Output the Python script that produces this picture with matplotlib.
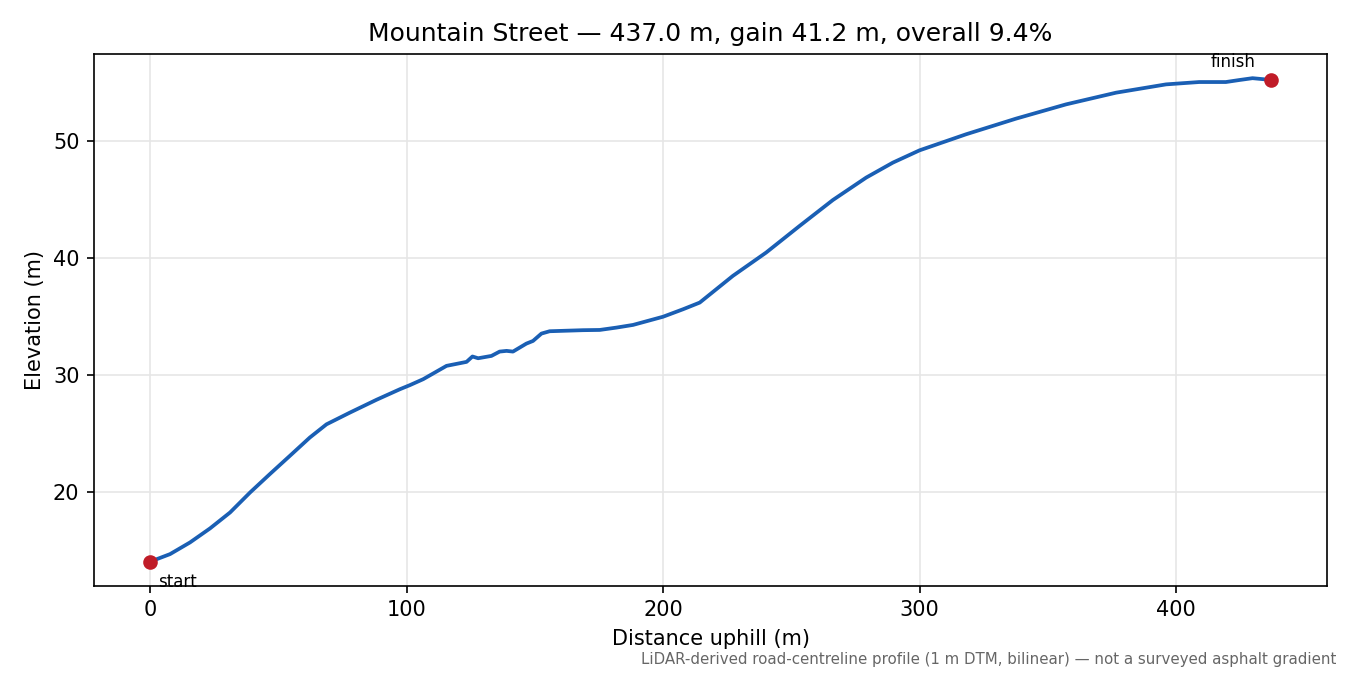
import numpy as np
import matplotlib
matplotlib.use("Agg")
import matplotlib.pyplot as plt

# Profile (distance uphill in m, elevation in m)
distance = [0, 7.8, 15.6, 23.4, 31.2, 39, 46.7, 54.5, 62.3, 68.8, 77.9, 88.3,
            97.4, 101.3, 106.5, 115.6, 123.4, 125.7, 127.9, 133.1, 136.3, 139,
            141.5, 146.7, 149.3, 152.6, 155.8, 168.8, 175.3, 181.8, 188.3, 200,
            207.8, 214.3, 227.2, 240.2, 253.2, 266.2, 279.2, 289.6, 300, 318.1,
            337.6, 357.1, 376.6, 396.1, 409, 419.4, 424.6, 429.8, 437]
elevation = [14.05, 14.7, 15.7, 16.9, 18.26, 19.97, 21.54, 23.1, 24.67, 25.8, 26.8, 27.9,
             28.8, 29.15, 29.66, 30.8, 31.14, 31.6, 31.45, 31.65, 32.02, 32.08,
             32.02, 32.7, 32.93, 33.56, 33.76, 33.85, 33.87, 34.07, 34.3, 35.0,
             35.64, 36.21, 38.49, 40.49, 42.76, 44.98, 46.9, 48.18, 49.23, 50.6,
             51.94, 53.16, 54.16, 54.87, 55.07, 55.07, 55.24, 55.4, 55.25]

street = "Mountain Street"
length = 437.0
gain = 41.2
grade = 9.4

line_col = "#1a5fb4"
dot_col = "#c01c28"

fig, ax = plt.subplots(figsize=(9, 4.5), dpi=150)
fig.subplots_adjust(left=0.0696, right=0.983, top=0.92, bottom=0.132)

ax.plot(distance, elevation, color=line_col, lw=1.8, zorder=3)
ax.scatter([distance[0], distance[-1]], [elevation[0], elevation[-1]],
           color=dot_col, s=36, zorder=4)

ax.annotate("start", (distance[0], elevation[0]), xytext=(3.8, -9.8),
            textcoords="offset points", ha="left", va="center", fontsize=8)
ax.annotate("finish", (distance[-1], elevation[-1]), xytext=(-7.5, 8.6),
            textcoords="offset points", ha="right", va="center", fontsize=8)

ax.grid(True, color="#e6e6e6", lw=0.8)
ax.set_axisbelow(True)
ax.set_xlabel("Distance uphill (m)")
ax.set_ylabel("Elevation (m)")
ax.set_title(f"{street} \u2014 {length:.1f} m, gain {gain:.1f} m, overall {grade:.1f}%")

fig.text(0.9896, 0.012,
         "LiDAR-derived road-centreline profile (1 m DTM, bilinear) \u2014 not a surveyed asphalt gradient",
         ha="right", va="bottom", fontsize=7.2, color="#666666")

fig.savefig("out.png", dpi=150)
